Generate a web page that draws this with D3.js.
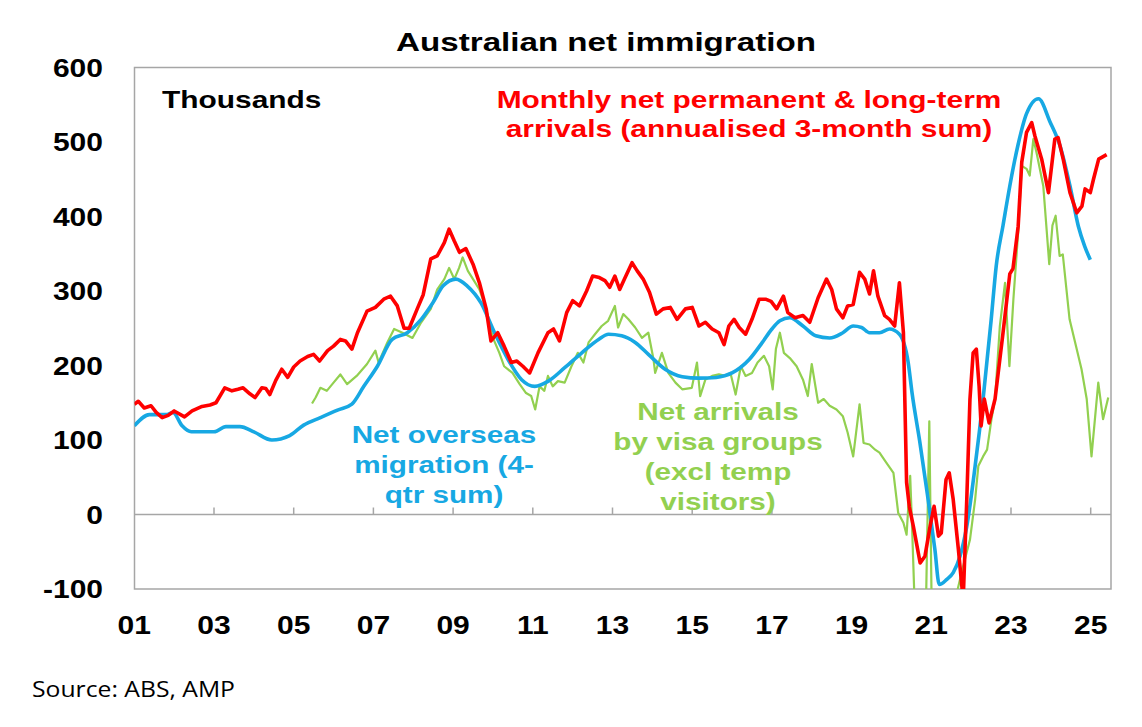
<!DOCTYPE html>
<html>
<head>
<meta charset="utf-8">
<script src="https://cdn.jsdelivr.net/npm/d3@7"></script>
<style>
  body { margin: 0; background: #fff; }
  text { font-family: "Liberation Sans", Arial, sans-serif; }
</style>
</head>
<body>
<svg width="1142" height="727"></svg>
<script>
// DATA (decimal years)

// Monthly net permanent & long-term arrivals (annualised 3-month sum)
var redYears = [2001.0, 2001.1, 2001.25, 2001.42, 2001.55, 2001.7, 2001.85, 2002.0, 2002.26, 2002.45,
  2002.7, 2002.9, 2003.05, 2003.27, 2003.45, 2003.6, 2003.73, 2003.9, 2004.03, 2004.2,
  2004.3, 2004.4, 2004.55, 2004.7, 2004.85, 2005.0, 2005.16, 2005.35, 2005.5, 2005.65,
  2005.85, 2006.0, 2006.17, 2006.3, 2006.46, 2006.6, 2006.84, 2007.05, 2007.26, 2007.43,
  2007.6, 2007.77, 2007.9, 2008.1, 2008.25, 2008.44, 2008.6, 2008.78, 2008.9, 2009.03,
  2009.16, 2009.32, 2009.5, 2009.66, 2009.83, 2009.95, 2010.12, 2010.28, 2010.46, 2010.6,
  2010.75, 2010.92, 2011.13, 2011.38, 2011.52, 2011.67, 2011.85, 2012.0, 2012.17, 2012.35,
  2012.5, 2012.67, 2012.81, 2012.93, 2013.06, 2013.18, 2013.3, 2013.49, 2013.62, 2013.77,
  2013.93, 2014.1, 2014.27, 2014.45, 2014.62, 2014.83, 2015.0, 2015.17, 2015.33, 2015.5,
  2015.67, 2015.8, 2015.92, 2016.05, 2016.18, 2016.34, 2016.5, 2016.68, 2016.84, 2016.98,
  2017.12, 2017.29, 2017.4, 2017.58, 2017.78, 2017.95, 2018.16, 2018.37, 2018.5, 2018.62,
  2018.78, 2018.9, 2019.04, 2019.2, 2019.33, 2019.45, 2019.55, 2019.66, 2019.83, 2019.95,
  2020.08, 2020.2, 2020.3, 2020.38, 2020.45, 2020.55, 2020.72, 2020.84, 2020.97, 2021.07,
  2021.18, 2021.25, 2021.37, 2021.45, 2021.55, 2021.68, 2021.8, 2021.89, 2021.97, 2022.05,
  2022.13, 2022.2, 2022.25, 2022.33, 2022.45, 2022.6, 2022.8, 2022.97, 2023.05, 2023.18,
  2023.27, 2023.39, 2023.52, 2023.6, 2023.77, 2023.94, 2024.1, 2024.18, 2024.31, 2024.48,
  2024.65, 2024.78, 2024.86, 2024.99, 2025.07, 2025.2, 2025.3, 2025.4];
var redValues = [148, 152, 143, 146, 137, 130, 133, 139, 131, 139,
  145, 147, 150, 170, 166, 168, 170, 162, 157, 170,
  169, 161, 180, 195, 184, 198, 206, 212, 215, 206,
  220, 226, 235, 233, 222, 244, 273, 278, 289, 293,
  280, 250, 250, 276, 295, 343, 347, 365, 383, 367,
  352, 357, 336, 311, 276, 233, 244, 226, 204, 206,
  199, 190, 217, 244, 249, 233, 271, 287, 280, 300,
  320, 318, 314, 305, 320, 302, 316, 338, 327, 316,
  298, 269, 276, 278, 262, 276, 278, 253, 258, 249,
  244, 228, 253, 262, 251, 242, 262, 289, 289, 286,
  276, 293, 271, 264, 267, 258, 291, 316, 302, 276,
  264, 280, 282, 325, 316, 296, 327, 293, 267, 262,
  253, 311, 244, 43, 10, -16, -65, -56, -16, 11,
  -29, -25, 47, 56, 20, -47, -115, 20, 155, 217,
  222, 172, 119, 155, 123, 155, 244, 323, 330, 387,
  473, 513, 526, 508, 477, 432, 504, 506, 477, 432,
  405, 414, 437, 432, 450, 477, 480, 483];

// Net overseas migration (4-qtr sum)
var blueYears = [2001.0, 2001.38, 2001.8, 2001.97, 2002.2, 2002.43, 2003.0, 2003.3, 2003.65, 2004.0,
  2004.45, 2004.9, 2005.25, 2005.67, 2006.1, 2006.46, 2006.76, 2007.1, 2007.47, 2007.85,
  2008.2, 2008.5, 2008.75, 2009.07, 2009.35, 2009.7, 2010.04, 2010.38, 2010.72, 2011.05,
  2011.39, 2011.8, 2012.23, 2012.65, 2012.9, 2013.23, 2013.57, 2013.9, 2014.32, 2014.75,
  2015.17, 2015.6, 2016.0, 2016.43, 2016.76, 2017.0, 2017.2, 2017.45, 2017.78, 2018.1,
  2018.45, 2018.78, 2019.04, 2019.25, 2019.45, 2019.7, 2019.95, 2020.2, 2020.42, 2020.52,
  2020.71, 2020.9, 2021.09, 2021.2, 2021.39, 2021.55, 2021.72, 2021.89, 2022.1, 2022.3,
  2022.5, 2022.63, 2022.8, 2022.97, 2023.18, 2023.39, 2023.69, 2023.98, 2024.23, 2024.48,
  2024.69, 2024.85, 2024.99];
var blueValues = [119, 134, 134, 137, 119, 111, 111, 118, 118, 111,
  100, 106, 120, 130, 140, 148, 172, 199, 235, 244,
  262, 285, 307, 316, 307, 284, 244, 208, 181, 172,
  179, 197, 217, 235, 242, 240, 231, 215, 195, 185,
  183, 184, 190, 208, 231, 249, 260, 264, 253, 240,
  237, 244, 253, 251, 244, 244, 249, 242, 204, 162,
  98, 28, -47, -94, -87, -78, -56, -16, 65, 155,
  260, 334, 388, 441, 497, 538, 558, 527, 495, 441,
  387, 360, 342];

// Net arrivals by visa groups (excl temp visitors)
var greenYears = [2005.46, 2005.55, 2005.67, 2005.83, 2006.0, 2006.17, 2006.34, 2006.58, 2006.84, 2007.05,
  2007.13, 2007.35, 2007.52, 2007.73, 2007.98, 2008.2, 2008.44, 2008.6, 2008.78, 2008.9,
  2009.03, 2009.15, 2009.24, 2009.37, 2009.5, 2009.66, 2009.83, 2010.0, 2010.16, 2010.28,
  2010.49, 2010.67, 2010.83, 2010.96, 2011.06, 2011.17, 2011.29, 2011.38, 2011.5, 2011.63,
  2011.8, 2011.97, 2012.13, 2012.27, 2012.4, 2012.56, 2012.73, 2012.89, 2013.06, 2013.14,
  2013.27, 2013.4, 2013.57, 2013.74, 2013.9, 2014.03, 2014.07, 2014.24, 2014.4, 2014.58,
  2014.75, 2014.99, 2015.12, 2015.2, 2015.33, 2015.5, 2015.67, 2015.83, 2015.96, 2016.09,
  2016.22, 2016.34, 2016.5, 2016.64, 2016.8, 2016.93, 2017.02, 2017.1, 2017.2, 2017.3,
  2017.45, 2017.62, 2017.78, 2017.9, 2018.0, 2018.16, 2018.3, 2018.45, 2018.62, 2018.78,
  2018.9, 2019.04, 2019.2, 2019.3, 2019.45, 2019.59, 2019.7, 2019.84, 2020.05, 2020.17,
  2020.3, 2020.38, 2020.47, 2020.52, 2020.6, 2020.85, 2020.95, 2021.02, 2021.3, 2021.62,
  2021.8, 2021.97, 2022.1, 2022.18, 2022.3, 2022.4, 2022.51, 2022.6, 2022.72, 2022.85,
  2022.96, 2023.06, 2023.18, 2023.27, 2023.39, 2023.47, 2023.56, 2023.64, 2023.81, 2023.96,
  2024.04, 2024.12, 2024.22, 2024.3, 2024.47, 2024.77, 2024.9, 2025.02, 2025.19, 2025.31,
  2025.44];
var greenValues = [149, 157, 170, 166, 177, 188, 175, 186, 202, 220,
  204, 231, 249, 244, 237, 258, 276, 302, 316, 331,
  316, 331, 345, 327, 316, 302, 276, 237, 217, 199,
  190, 175, 163, 159, 141, 172, 166, 186, 172, 179,
  177, 199, 217, 204, 231, 242, 253, 260, 280, 251,
  269, 262, 251, 237, 244, 208, 190, 217, 190, 177,
  168, 170, 204, 159, 181, 186, 188, 186, 190, 161,
  199, 186, 190, 204, 213, 199, 168, 222, 244, 217,
  210, 199, 181, 159, 202, 150, 155, 146, 141, 132,
  110, 78, 148, 96, 94, 87, 83, 72, 56, 2,
  -11, -27, 52, -20, -150, -170, 125, -170, -190, -110,
  -69, -34, 20, 65, 78, 87, 128, 155, 253, 311,
  199, 289, 379, 468, 464, 455, 504, 486, 441, 336,
  388, 401, 347, 349, 262, 195, 155, 78, 177, 128,
  157];

var yTicks = [-100, 0, 100, 200, 300, 400, 500, 600];
var xTickYears = [2001, 2003, 2005, 2007, 2009, 2011, 2013, 2015, 2017, 2019, 2021, 2023, 2025];
var xTickLabels = ["01", "03", "05", "07", "09", "11", "13", "15", "17", "19", "21", "23", "25"];

var redLabel = ["Monthly net permanent & long-term", "arrivals (annualised 3-month sum)"];
var blueLabel = ["Net overseas", "migration (4-", "qtr sum)"];
var greenLabel = ["Net arrivals", "by visa groups", "(excl temp", "visitors)"];

// COLOURS
var RED = "#ff0000", BLUE = "#17a8e3", GREEN = "#92d050", FRAME = "#a6a6a6";

var svg = d3.select("svg");

// plot box (note: "top" is taken by window.top, hence the prefix)
var plotLeft = 134.5, plotRight = 1111, plotTop = 67.5, plotBottom = 589;

var x = d3.scaleLinear().domain([2001, 2025]).range([134.3, 1090.7]);
var y = d3.scaleLinear().domain([-100, 600]).range([plotBottom, plotTop]);

// text stretched horizontally (the original picture is a bit wide)
function stretchText(g, str, px, py, size, sx, anchor, color, weight) {
    return g.append("text")
        .attr("transform", "translate(" + px + "," + py + ") scale(" + sx + ",1)")
        .attr("text-anchor", anchor)
        .style("font-size", size + "px")
        .style("font-weight", weight || "bold")
        .attr("fill", color || "#000")
        .text(str);
}

svg.append("defs").append("clipPath")
    .attr("id", "plotClip")
    .append("rect")
    .attr("x", plotLeft)
    .attr("y", plotTop)
    .attr("width", plotRight - plotLeft)
    .attr("height", plotBottom - plotTop);

// frame
svg.append("rect")
    .attr("x", plotLeft)
    .attr("y", plotTop)
    .attr("width", plotRight - plotLeft)
    .attr("height", plotBottom - plotTop)
    .attr("fill", "none")
    .attr("stroke", FRAME)
    .attr("stroke-width", 1.5);

// zero line with ticks on it
svg.append("line")
    .attr("x1", plotLeft).attr("x2", plotRight)
    .attr("y1", y(0)).attr("y2", y(0))
    .attr("stroke", FRAME)
    .attr("stroke-width", 1.5);

svg.append("g")
    .selectAll("line")
    .data(xTickYears.slice(1))
    .enter()
    .append("line")
    .attr("x1", d => x(d)).attr("x2", d => x(d))
    .attr("y1", y(0)).attr("y2", y(0) - 7)
    .attr("stroke", FRAME)
    .attr("stroke-width", 1.5);

// y labels
var yLab = svg.append("g");
yTicks.forEach(v => stretchText(yLab, v, 103, y(v) + 9, 25, 1.2, "end"));

// x labels
var xLab = svg.append("g");
xTickYears.forEach((yr, i) => stretchText(xLab, xTickLabels[i], x(yr), 634, 25, 1.2, "middle"));

// lines
var plot = svg.append("g").attr("clip-path", "url(#plotClip)");

function series(years, values) {
    return years.map((d, i) => ({ t: d, v: values[i] }));
}

var lineSharp = d3.line().x(d => x(d.t)).y(d => y(d.v));
var lineSmooth = d3.line().x(d => x(d.t)).y(d => y(d.v)).curve(d3.curveMonotoneX);

plot.append("path")
    .attr("d", lineSharp(series(greenYears, greenValues)))
    .attr("fill", "none")
    .attr("stroke", GREEN)
    .attr("stroke-width", 2.2)
    .attr("stroke-linejoin", "round");

plot.append("path")
    .attr("d", lineSmooth(series(blueYears, blueValues)))
    .attr("fill", "none")
    .attr("stroke", BLUE)
    .attr("stroke-width", 3.6)
    .attr("stroke-linejoin", "round");

plot.append("path")
    .attr("d", lineSharp(series(redYears, redValues)))
    .attr("fill", "none")
    .attr("stroke", RED)
    .attr("stroke-width", 3.6)
    .attr("stroke-linejoin", "round");

// titles and labels
var labels = svg.append("g");
stretchText(labels, "Australian net immigration", 606, 51, 25.5, 1.3, "middle");
stretchText(labels, "Thousands", 162, 108, 23, 1.3, "start");

redLabel.forEach((s, i) => stretchText(labels, s, 749, 108 + i * 29, 23, 1.3, "middle", RED));
blueLabel.forEach((s, i) => stretchText(labels, s, 444, 443 + i * 30, 23, 1.29, "middle", BLUE));
greenLabel.forEach((s, i) => stretchText(labels, s, 718, 420 + i * 30, 23, 1.29, "middle", GREEN));

svg.append("text")
    .attr("x", 32)
    .attr("y", 697)
    .attr("textLength", 203)
    .attr("lengthAdjust", "spacingAndGlyphs")
    .style("font-family", "'Open Sans', 'Noto Sans', sans-serif")
    .style("font-size", "22px")
    .text("Source: ABS, AMP");
</script>
</body>
</html>
